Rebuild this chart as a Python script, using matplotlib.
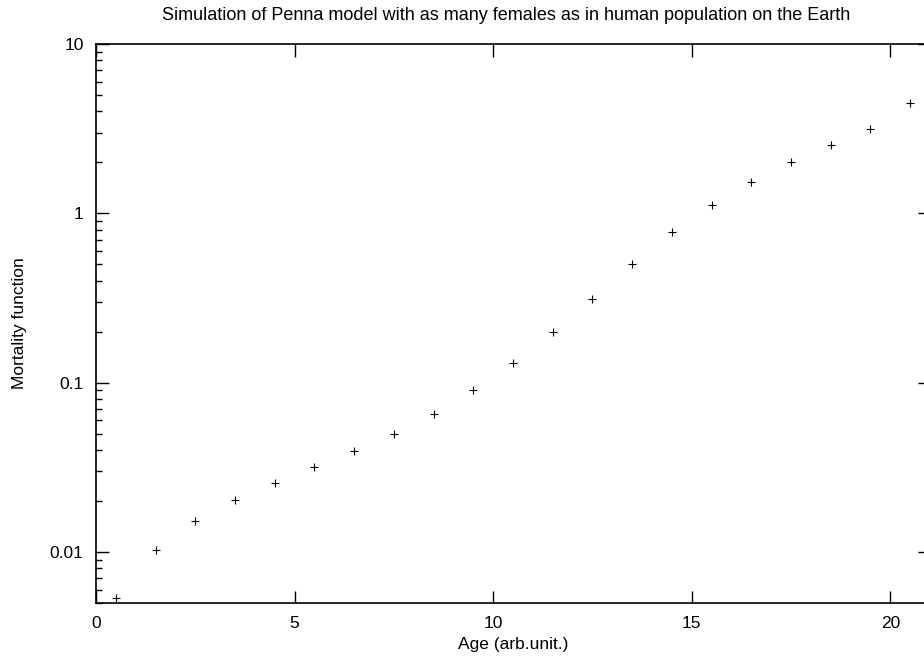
import matplotlib
matplotlib.use("Agg")
import matplotlib.pyplot as plt
from matplotlib.ticker import LogLocator, NullFormatter, FixedLocator, FixedFormatter

plt.rcParams['font.family'] = ['Liberation Sans', 'DejaVu Sans']

# mortality function
age = [0.5, 1.5, 2.5, 3.5, 4.5, 5.5, 6.5, 7.5, 8.5, 9.5, 10.5,
       11.5, 12.5, 13.5, 14.5, 15.5, 16.5, 17.5, 18.5, 19.5, 20.5]
mortality = [0.00537, 0.0103, 0.0152, 0.0202, 0.0257, 0.0318, 0.0396,
             0.0496, 0.0653, 0.0905, 0.131, 0.198, 0.312, 0.499, 0.778,
             1.127, 1.534, 2.014, 2.548, 3.152, 4.49]

x_ticks = [0, 5, 10, 15, 20]
y_ticks = [0.01, 0.1, 1, 10]
y_tick_labels = ["0.01", "0.1", "1", "10"]

W, H = 924, 662
fig = plt.figure(figsize=(W / 100, H / 100), dpi=100)
# right edge of the axes sits just past the image border, like the cropped original
left, right, top, bottom = 96, 930, 44, 603
ax = fig.add_axes([left / W, 1 - bottom / H, (right - left) / W, (bottom - top) / H])

ax.plot(age, mortality, linestyle='none', marker='+', color='black',
        markersize=6, markeredgewidth=0.8)

ax.set_yscale('log')
ax.set_xlim(0, 21)
ax.set_ylim(0.005, 10)

ax.xaxis.set_major_locator(FixedLocator(x_ticks))
ax.yaxis.set_major_locator(FixedLocator(y_ticks))
ax.yaxis.set_major_formatter(FixedFormatter(y_tick_labels))
ax.yaxis.set_minor_locator(LogLocator(base=10, subs=range(2, 10)))
ax.yaxis.set_minor_formatter(NullFormatter())

ax.tick_params(which='both', direction='in', top=True, right=True,
               labelsize=12.5, width=1, pad=9)
ax.tick_params(which='major', length=9)
ax.tick_params(which='minor', length=4.5)
for s in ax.spines.values():
    s.set_linewidth(1.2)

ax.set_xlabel("Age (arb.unit.)", fontsize=12.5, labelpad=5)
ax.set_ylabel("Mortality function", fontsize=12.5, labelpad=16)
fig.text(506 / W, 1 - 20 / H, "Simulation of Penna model with as many females as in human population on the Earth",
         ha='center', va='baseline', fontsize=13)

fig.savefig("out.png", dpi=100)
